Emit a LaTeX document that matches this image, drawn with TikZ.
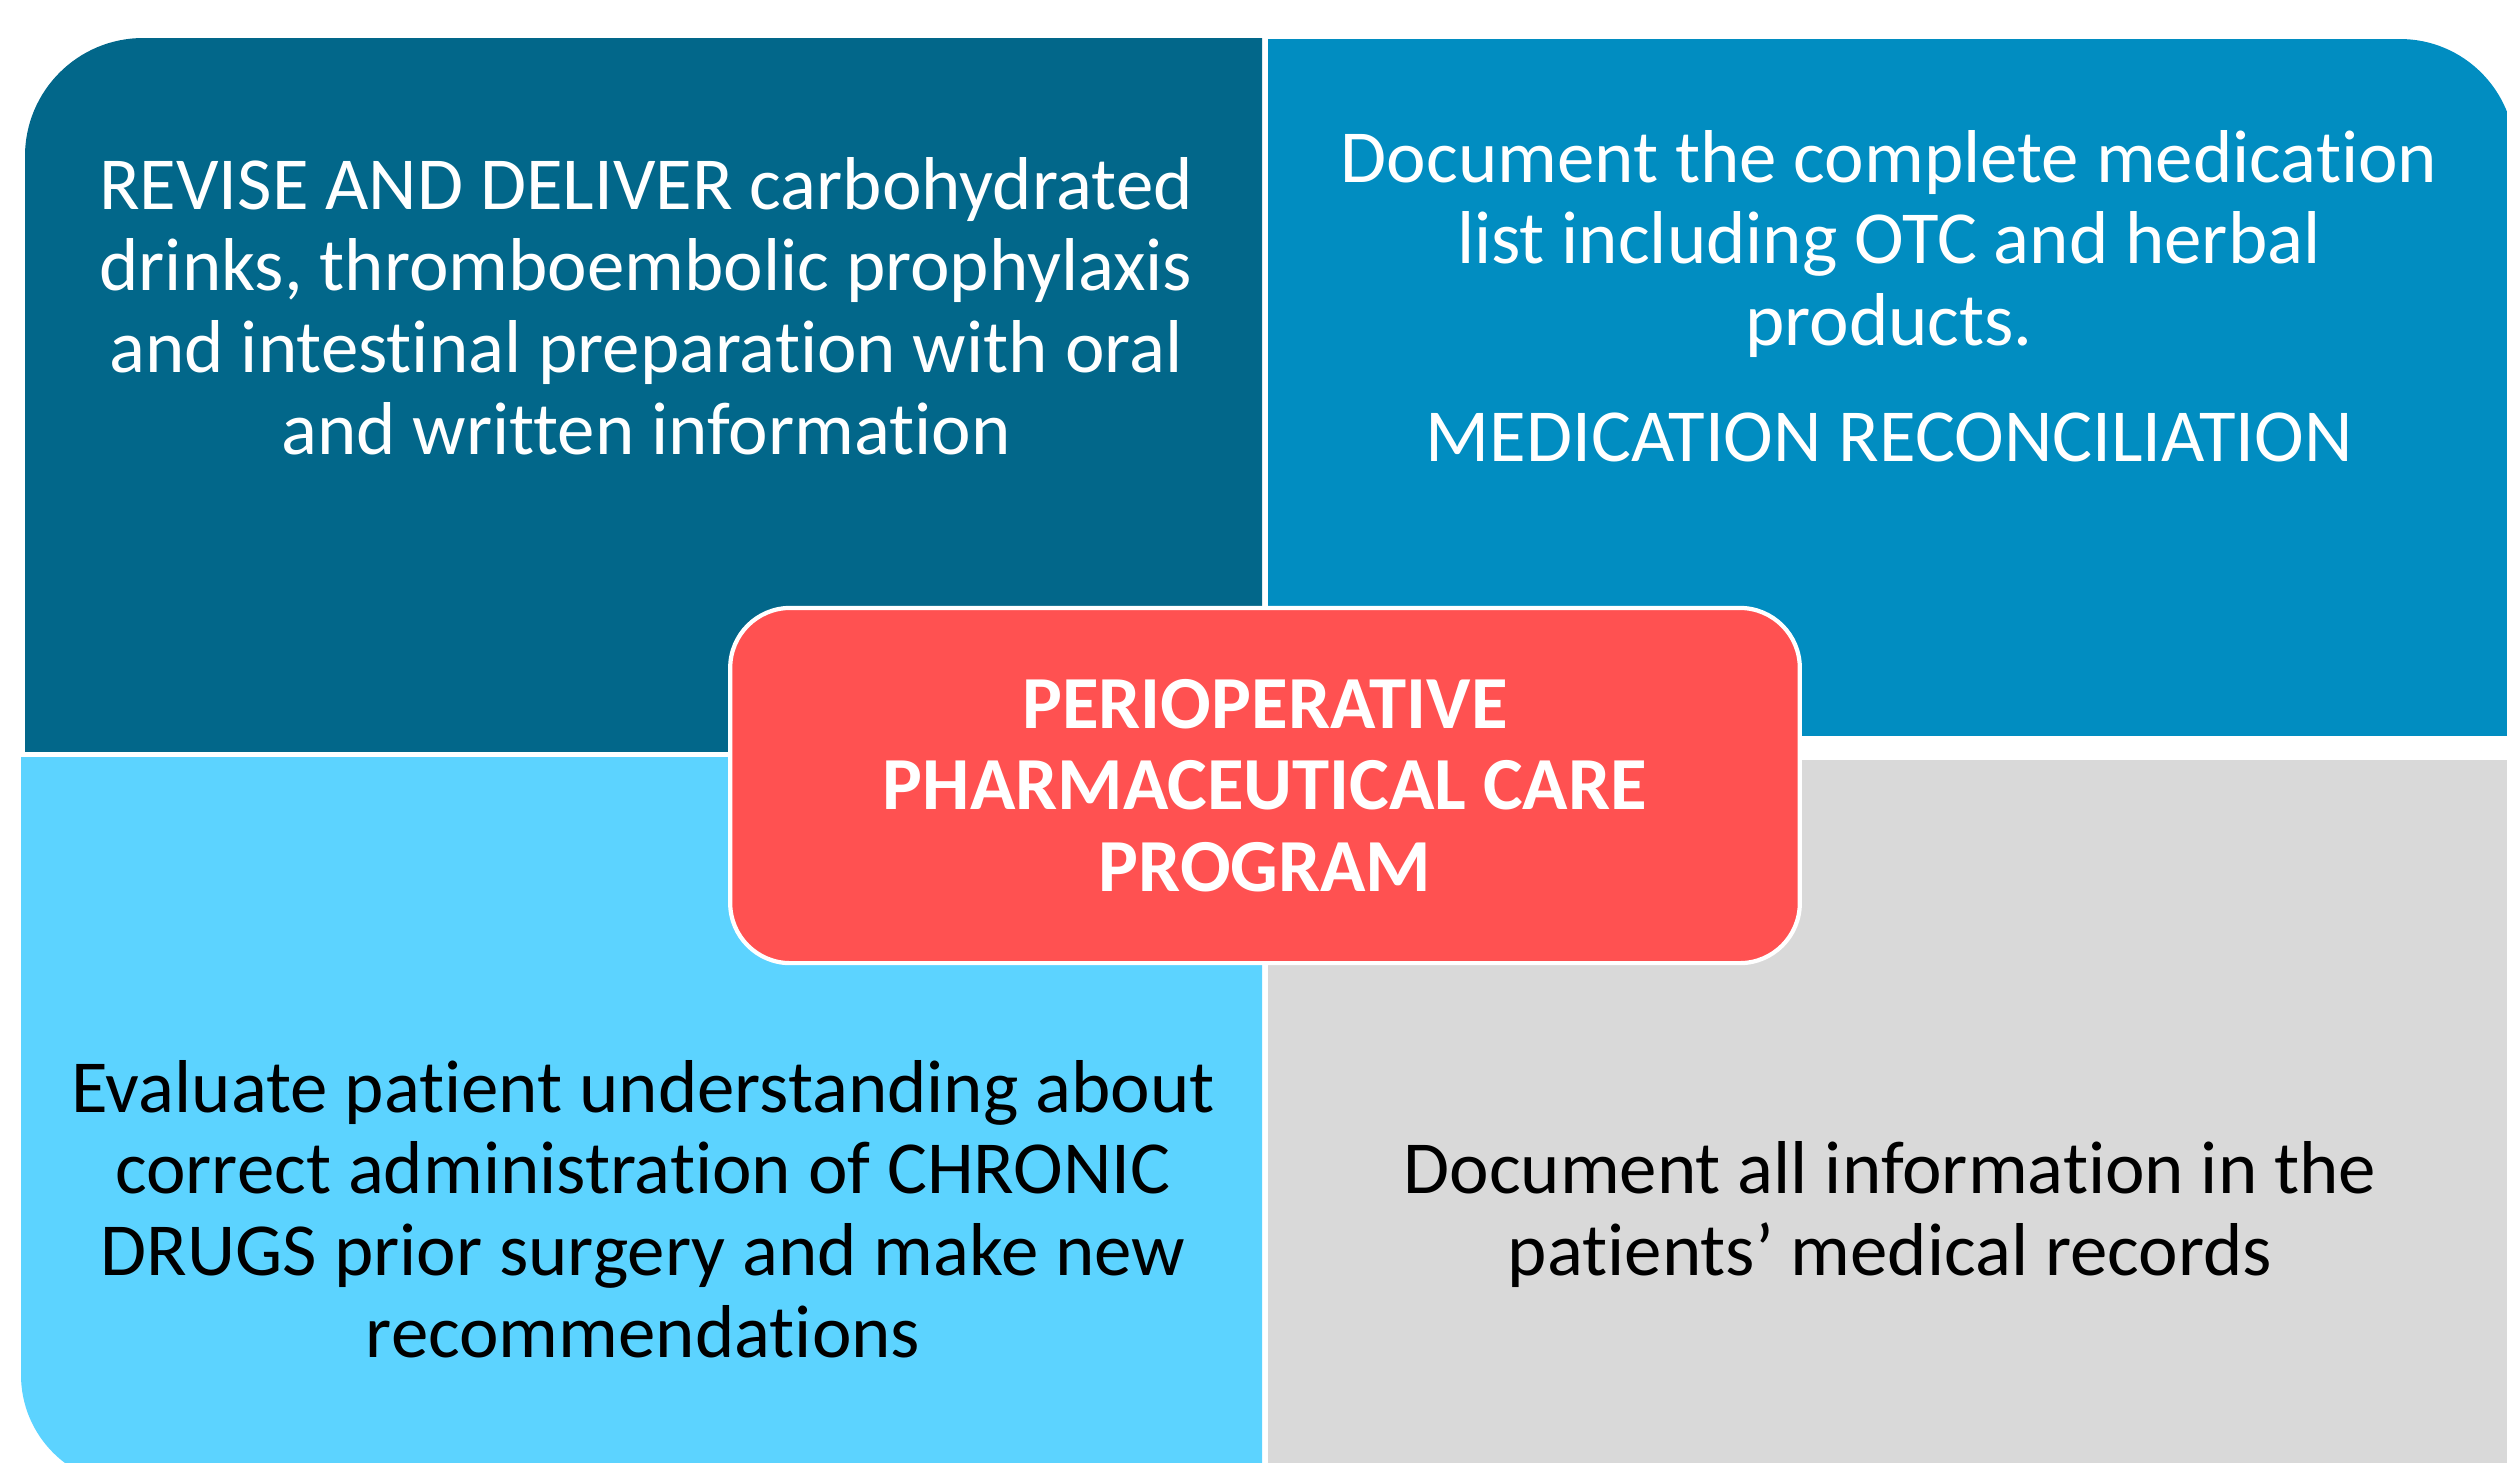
\documentclass[tikz,border=0pt]{standalone}
\usepackage{fontspec}
\setmainfont{Carlito}[Ligatures=NoCommon]
\definecolor{qdark}{HTML}{02678A}
\definecolor{qblue}{HTML}{018DC1}
\definecolor{qlight}{HTML}{5CD3FF}
\definecolor{qgray}{HTML}{D9D9D9}
\definecolor{qred}{HTML}{FF5151}
\begin{document}
\begin{tikzpicture}[x=0.01cm,y=-0.01cm,
  quadtext/.style={align=center, inner sep=0pt, anchor=base,
    font=\fontsize{21.3}{23.2}\selectfont},
  corebox/.style={draw=white, line width=1.2pt, fill=qred,
    rounded corners=0.6cm, minimum width=10.69cm, minimum height=3.55cm,
    align=center, text=white, inner sep=0pt,
    font=\fontsize{21.3}{23.2}\selectfont\bfseries}]
\useasboundingbox (0,0) rectangle (2507,1462);
\fill[white] (0,0) rectangle (2507,1462);

% four quadrants, each with one rounded outer corner
\begin{scope}
  \clip (25,38) rectangle (1262,751);
  \fill[qdark, rounded corners=1.18cm] (25,38) rectangle (1600,1100);
\end{scope}
\begin{scope}
  \clip (1268,39) rectangle (2515,735);
  \fill[qblue, rounded corners=1.15cm] (800,39) rectangle (2515,1100);
\end{scope}
\begin{scope}
  \clip (21,757) rectangle (1262,1485);
  \fill[qlight, rounded corners=1.1cm] (21,400) rectangle (1600,1485);
\end{scope}
\fill[qgray] (1268,760) rectangle (2515,1500);

% quadrant texts (placed by the baseline of their last line)
\node[quadtext, text=white] (revise) at (646,454)
  {REVISE AND DELIVER carbohydrated\\drinks, thromboembolic prophylaxis\\and intestinal preparation with oral\\and written information};
\node[quadtext, text=white] (medlist) at (1889,461)
  {Document the complete medication\\list including OTC and herbal\\products.\\[0.34cm]MEDICATION RECONCILIATION};
\node[quadtext, text=black] (evaluate) at (643,1357)
  {Evaluate patient understanding about\\correct administration of CHRONIC\\DRUGS prior surgery and make new\\recommendations};
\node[quadtext, text=black] (records) at (1890,1275)
  {Document all information in the\\patients’ medical records};

% central programme box
\node[corebox] (core) at (1265,785.5)
  {PERIOPERATIVE\\PHARMACEUTICAL CARE\\PROGRAM};
\end{tikzpicture}
\end{document}
